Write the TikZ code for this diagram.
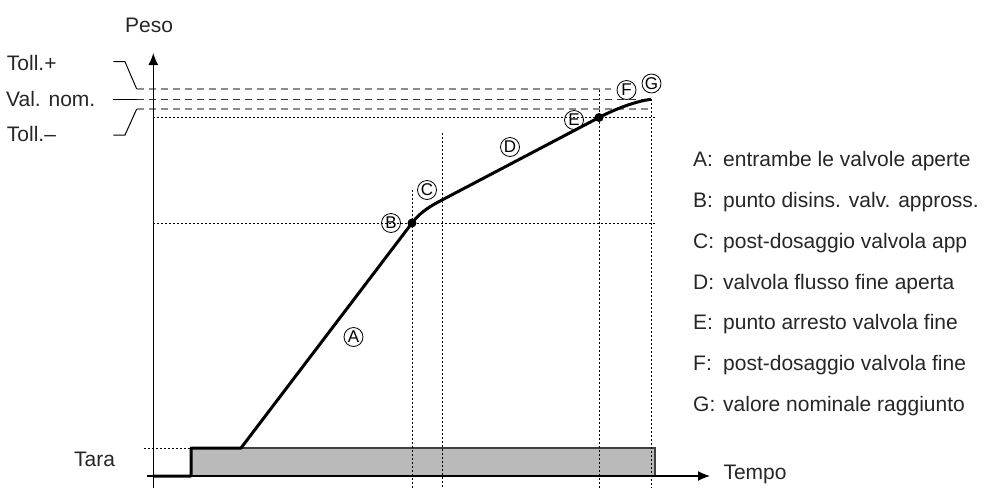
\documentclass[tikz,border=0pt]{standalone}
\usepackage{fontspec}
\setmainfont{Liberation Sans}
\usetikzlibrary{arrows.meta}
\begin{document}
\begin{tikzpicture}[x=1pt,y=-1pt,
  txt/.style={font=\fontsize{21}{24}\selectfont, inner sep=0pt, anchor=base west, text=black!85},
  lbl/.style={circle, draw, line width=0.8pt, minimum size=19pt, inner sep=0pt, font=\fontsize{17}{17}\selectfont},
  axisline/.style={line width=1.3pt, -{Latex[length=12pt,width=10pt]}},
  curve/.style={line width=3pt, line join=round},
  dotl/.style={line width=0.8pt, dash pattern=on 2pt off 2pt},
  dashg/.style={line width=1.2pt, black!45, dash pattern=on 7pt off 5pt},
  dashk/.style={line width=1.2pt, black!80, dash pattern=on 7pt off 5pt},
  lead/.style={line width=1pt},
  tarabox/.style={fill=black!27, draw=black!75, line width=1.3pt}
]
\useasboundingbox (0,0) rectangle (988,488);

% coordinates
\coordinate (Ybot) at (153.3,488);
\coordinate (Ytip) at (153.3,53);
\coordinate (Xl) at (146.7,476);
\coordinate (Xtip) at (710,476);
\coordinate (T0) at (154,476);
\coordinate (T1) at (191,476);
\coordinate (T2) at (191,448);
\coordinate (T3) at (241,448);
\coordinate (B) at (412,223);
\coordinate (C) at (442,200);
\coordinate (E) at (599,117.5);
\coordinate (G) at (651,99.3);

% tare box
\draw[tarabox] (191,448) rectangle (655,476);

% dotted guide lines
\draw[dotl] (153.3,117.5) -- (657,117.5);
\draw[dotl] (153.3,223) -- (657,223);
\draw[dotl] (144,448) -- (T2);
\draw[dotl] (412.5,190) -- (412.5,488);
\draw[dotl] (442,133) -- (442,488);
\draw[dotl] (599,90) -- (599,488);
\draw[dotl] (651,99.3) -- (651,488);

% tolerance lines with leaders
\coordinate (Lp1) at (113.3,61.7); \coordinate (Lp2) at (125,61.7); \coordinate (Lp3) at (136.7,89);
\coordinate (Ln1) at (113.3,99.3); \coordinate (Ln3) at (136.7,99.3);
\coordinate (Lm1) at (113.3,135); \coordinate (Lm2) at (125,135); \coordinate (Lm3) at (136.7,109);
\draw[lead] (Lp1) -- (Lp2) -- (Lp3);
\draw[lead] (Ln1) -- (Ln3);
\draw[lead] (Lm1) -- (Lm2) -- (Lm3);
\draw[dashg] (Lp3) -- (611,89);
\draw[dashk] (Ln3) -- (G);
\draw[dashg] (Lm3) -- (651,109);

% axes
\draw[axisline] (Ybot) -- (Ytip);
\draw[axisline] (Xl) -- (Xtip);

% curve
\draw[curve] (T0) -- (T1) -- (T2) -- (T3) -- (B)
  .. controls (421,211.1) and (432,205.3) .. (C) -- (E)
  .. controls (615,109.1) and (635,101.4) .. (G);
\fill (B) circle (4.5);
\fill (E) circle (4.5);

% circled labels
\node[lbl] (la) at (353.5,337) {A};
\node[lbl] (lb) at (391,223) {B};
\node[lbl] (lc) at (427,190) {C};
\node[lbl] (ld) at (510,147) {D};
\node[lbl] (le) at (574,120) {E};
\node[lbl] (lf) at (626.5,90) {F};
\node[lbl] (lg) at (651.5,83.5) {G};

% axis texts
\node[txt] (peso) at (125,32) {Peso};
\node[txt] (tp) at (6.7,70) {Toll.+};
\node[txt] (vn) at (6,106) {Val. nom.};
\node[txt] (tm) at (6.7,141.5) {Toll.–};
\node[txt] (tara) at (74,466.7) {Tara};
\node[txt] (tempo) at (723.3,479) {Tempo};

% legend
\foreach \k/\t [count=\i from 0] in {A/entrambe le valvole aperte, B/punto disins. valv. appross., C/post-dosaggio valvola app, D/valvola flusso fine aperta, E/punto arresto valvola fine, F/post-dosaggio valvola fine, G/valore nominale raggiunto}{
  \node[txt] (key\k) at (693,166.7+40.8*\i) {\k:};
  \node[txt] (leg\k) at (723,166.7+40.8*\i) {\t};
}
\end{tikzpicture}
\end{document}
